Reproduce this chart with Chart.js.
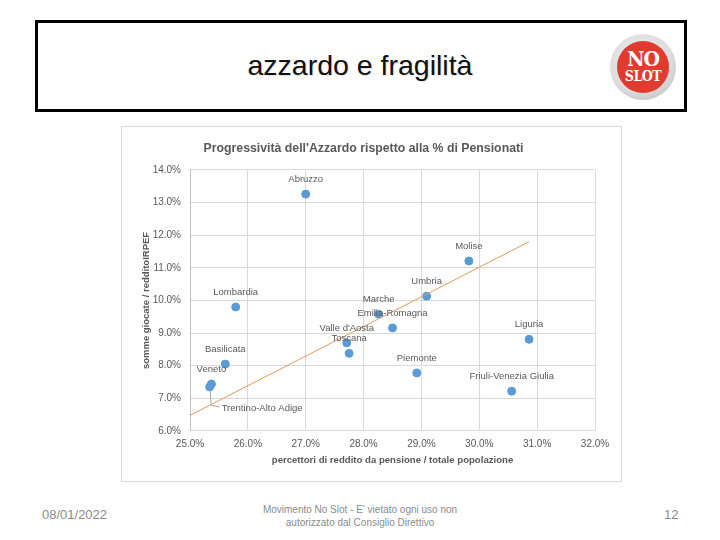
<!DOCTYPE html>
<html>
<head>
<meta charset="utf-8">
<script src="https://cdn.jsdelivr.net/npm/chart.js@4.4.1/dist/chart.umd.min.js"></script>
<style>
  html, body { margin:0; padding:0; background:#ffffff; }
  body { width:720px; height:540px; position:relative; overflow:hidden; font-family:"Liberation Sans", Arial, sans-serif; }
  #slideBox { position:absolute; left:35px; top:20px; width:646px; height:86px; border:3px solid #000; }
  #slideTitle { position:absolute; left:0; width:720px; top:51px; text-align:center; font-size:28.5px; line-height:1; color:#111;
    text-shadow:1px 1px 1px rgba(0,0,0,0.12); }
  #logoRing { position:absolute; left:610px; top:34px; width:66px; height:66px; border-radius:50%;
    background: radial-gradient(circle at 45% 40%, #f2f2f2 0%, #dcdcdc 60%, #a8a8a8 100%); }
  #logoDisk { position:absolute; left:7px; top:7px; width:52px; height:52px; border-radius:50%; background:#e13a2f;
    color:#fff; text-align:center; font-family:"DejaVu Serif Condensed","DejaVu Serif",serif; font-weight:bold; }
  #logoNo { position:absolute; left:0; width:52px; top:7px; font-size:21px; line-height:21px; letter-spacing:-1px; }
  #logoSlot { position:absolute; left:0; width:52px; top:28px; font-size:14px; line-height:15px; letter-spacing:-0.5px; }
  #chartWrap { position:absolute; left:121px; top:126px; width:499px; height:354px; border:1px solid #d9d9d9; }
  #footDate { position:absolute; left:42px; top:507px; font-size:13px; line-height:16px; color:#8b8b8b; }
  #footMid { position:absolute; left:200px; width:320px; top:503px; text-align:center; font-size:10px; line-height:13px; color:#8b8b8b; }
  #footNum { position:absolute; left:664px; top:507px; font-size:13px; line-height:16px; color:#8b8b8b; }
</style>
</head>
<body>
<div id="slideBox"></div>
<div id="slideTitle">azzardo e fragilità</div>
<div id="logoRing"><div id="logoDisk"><div id="logoNo">NO</div><div id="logoSlot">SLOT</div></div></div>
<div id="chartWrap"><canvas id="c" width="499" height="354"></canvas></div>
<div id="footDate">08/01/2022</div>
<div id="footMid">Movimento No Slot - E' vietato ogni uso non<br>autorizzato dal Consiglio Direttivo</div>
<div id="footNum">12</div>
<script>
const chartTitle = "Progressività dell'Azzardo rispetto alla % di Pensionati";
const xTitle = "percettori di reddito da pensione / totale popolazione";
const yTitle = "somme giocate / redditoIRPEF";
const regions = ['Abruzzo','Molise','Umbria','Lombardia','Marche','Emilia-Romagna',"Valle d'Aosta",'Toscana','Basilicata','Veneto','Trentino-Alto Adige','Piemonte','Liguria','Friuli-Venezia Giulia'];
const pensionShare = [27.00, 29.82, 29.09, 25.79, 28.26, 28.50, 27.71, 27.75, 25.61, 25.37, 25.34, 28.92, 30.86, 30.56];
const gamblingShare = [13.26, 11.21, 10.13, 9.80, 9.58, 9.16, 8.70, 8.38, 8.05, 7.44, 7.35, 7.78, 8.81, 7.22];
const trendX = [25.00, 30.86];
const trendY = [6.48, 11.80];
const xRange = [25, 32];
const yRange = [6, 14];

const points = pensionShare.map((x, i) => ({ x: x, y: gamblingShare[i] }));
const trend = trendX.map((x, i) => ({ x: x, y: trendY[i] }));
const calloutRegions = ['Trentino-Alto Adige'];

const labelPlugin = {
  id: 'pointLabels',
  afterDatasetsDraw(chart) {
    const meta = chart.getDatasetMeta(1);
    const ctx = chart.ctx;
    ctx.save();
    ctx.font = '9.5px "Liberation Sans", Arial, sans-serif';
    ctx.fillStyle = '#595959';
    ctx.textBaseline = 'middle';
    meta.data.forEach((el, i) => {
      const name = regions[i];
      if (calloutRegions.includes(name)) {
        ctx.strokeStyle = '#a6a6a6';
        ctx.lineWidth = 1;
        ctx.beginPath();
        ctx.moveTo(el.x + 0.5, el.y + 3);
        ctx.lineTo(el.x + 1.5, el.y + 18.3);
        ctx.lineTo(el.x + 10, el.y + 20);
        ctx.stroke();
        ctx.textAlign = 'left';
        ctx.fillText(name, el.x + 12, el.y + 21.6);
      } else {
        ctx.textAlign = 'center';
        ctx.fillText(name, el.x, el.y - 14.5);
      }
    });
    ctx.restore();
  }
};

new Chart(document.getElementById('c'), {
  type: 'scatter',
  data: {
    datasets: [
      {
        type: 'line',
        data: trend,
        borderColor: '#E39A5E',
        borderWidth: 1,
        pointRadius: 0,
        fill: false,
        tension: 0
      },
      {
        data: points,
        backgroundColor: '#5B9BD5',
        borderColor: '#5B9BD5',
        pointRadius: 4,
        pointHoverRadius: 4
      }
    ]
  },
  options: {
    responsive: false,
    animation: false,
    events: [],
    layout: { padding: { left: 10, right: 26, top: 0, bottom: 10.5 } },
    plugins: {
      legend: { display: false },
      tooltip: { enabled: false },
      title: {
        display: true,
        text: chartTitle,
        color: '#595959',
        font: { family: '"Liberation Sans", Arial, sans-serif', size: 12.3, weight: 'bold', lineHeight: 1.2 },
        padding: { top: 14, bottom: 14.2 }
      }
    },
    scales: {
      x: {
        type: 'linear',
        min: xRange[0], max: xRange[1],
        afterFit(s) { s.height = 39.5; },
        ticks: {
          stepSize: 1,
          padding: 7,
          color: '#595959',
          font: { family: '"Liberation Sans", Arial, sans-serif', size: 10 },
          callback: v => v.toFixed(1) + '%'
        },
        grid: { color: '#d9d9d9', drawTicks: false },
        border: { color: '#d9d9d9' },
        title: {
          display: true,
          text: xTitle,
          color: '#595959',
          font: { family: '"Liberation Sans", Arial, sans-serif', size: 9.6, weight: 'bold', lineHeight: 1.2 },
          padding: { top: 5, bottom: 4 }
        }
      },
      y: {
        type: 'linear',
        min: yRange[0], max: yRange[1],
        afterFit(s) { s.width = 58; },
        ticks: {
          stepSize: 1,
          padding: 9,
          color: '#595959',
          font: { family: '"Liberation Sans", Arial, sans-serif', size: 10 },
          callback: v => v.toFixed(1) + '%'
        },
        grid: { color: '#d9d9d9', drawTicks: false },
        border: { color: '#bfbfbf' },
        title: {
          display: true,
          text: yTitle,
          color: '#595959',
          font: { family: '"Liberation Sans", Arial, sans-serif', size: 9.5, weight: 'bold', lineHeight: 1.2 },
          padding: { top: 8.3, bottom: 2 }
        }
      }
    }
  },
  plugins: [labelPlugin]
});
</script>
</body>
</html>
